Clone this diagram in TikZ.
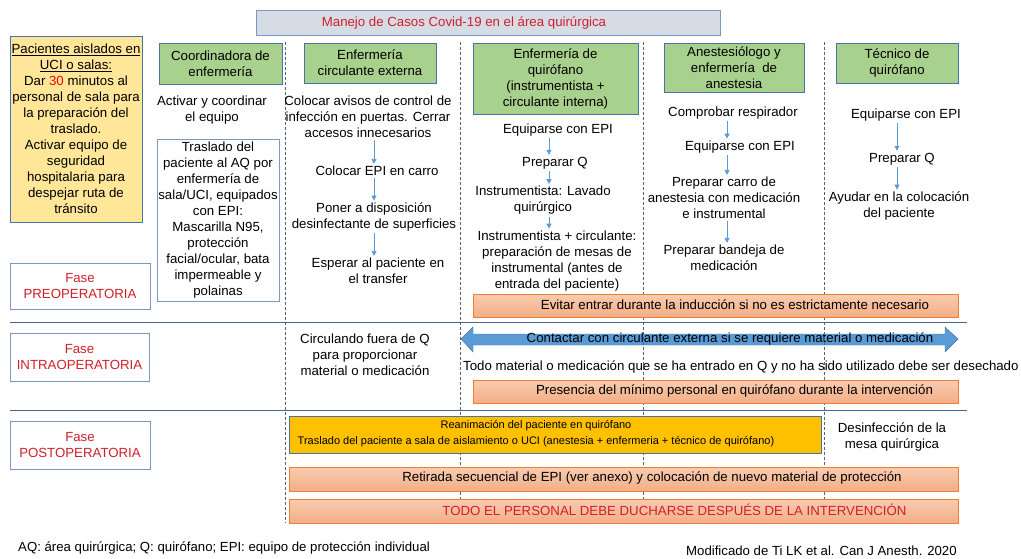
\documentclass[tikz,border=0pt]{standalone}
\usepackage{fontspec}
\setmainfont{Liberation Sans}
\usepackage{tikz}
\usetikzlibrary{positioning}
\usetikzlibrary{arrows.meta}
\definecolor{rolegreen}{HTML}{A9D18E}
\definecolor{boxblue}{HTML}{4A72A8}
\definecolor{softblue}{HTML}{7D98BE}
\definecolor{noteyellow}{HTML}{FFE699}
\definecolor{titlegray}{HTML}{D6DCE5}
\definecolor{phasered}{HTML}{D0202A}
\definecolor{barorange}{HTML}{F4AE86}
\definecolor{barlight}{HTML}{F8CCB0}
\definecolor{barline}{HTML}{ED7D31}
\definecolor{flowblue}{HTML}{5B9BD5}
\definecolor{arrowline}{HTML}{41719C}
\definecolor{reagold}{HTML}{FFC000}
\definecolor{sepline}{HTML}{4F6480}
\tikzset{x=1pt, y=-1pt, >={Triangle[length=5pt,width=5pt]}, font=\fontsize{13.25}{16}\selectfont}
\tikzstyle{role} = [draw=boxblue, fill=rolegreen, rectangle, align=center, inner sep=0pt]
\tikzstyle{note} = [draw=softblue, fill=white, rectangle, align=center, inner sep=0pt]
\tikzstyle{task} = [align=center, inner sep=2pt]
\tikzstyle{phase} = [draw=softblue, fill=white, rectangle, align=center, text=phasered, inner sep=0pt]
\tikzstyle{bar} = [draw=barline, top color=barlight, bottom color=barorange, rectangle, inner sep=0pt]
\tikzstyle{flow} = [->, draw=flowblue, line width=0.8pt]
\tikzstyle{lane} = [draw=sepline, line width=0.6pt, dash pattern=on 3pt off 2pt]
\tikzstyle{sep} = [draw=sepline, line width=0.8pt]
\begin{document}
\begin{tikzpicture}
		\useasboundingbox (0,0) rectangle (1021,558);

		% banner
		\node [rectangle, draw=softblue, fill=titlegray, minimum width=464, minimum height=25] (banner) at (488,22.5) {};
		\node [text=phasered] (title) at (464,23) {Manejo de Casos Covid-19 en el área quirúrgica};

		% contact arrow (under the lanes)
		\draw [draw=arrowline, fill=flowblue] (461,339) -- (473,327) -- (473,334) -- (945,334) -- (945,327) -- (958,339)
			-- (945,352) -- (945,345) -- (473,345) -- (473,352) -- cycle;
		\node (contact) at (730,339) {Contactar con circulante externa si se requiere material o medicación};

		% lanes and phase separators
		\foreach \lx in {285,460,643,824}
			\draw [lane] (\lx,42) -- (\lx,523);
		\draw [sep] (10,322) -- (967,322);
		\draw [sep] (10,410) -- (967,410);

		% left notes
		\node [rectangle, draw=boxblue, fill=noteyellow, align=center, minimum width=132, minimum height=186, inner sep=0pt] (isolated) at (76,129) {\underline{Pacientes aislados en}\\\underline{UCI o salas:}\\Dar {\color{red}30} minutos al\\personal de sala para\\la preparación del\\traslado.\\Activar equipo de\\seguridad\\hospitalaria para\\despejar ruta de\\tránsito};

		\node [phase, minimum width=140, minimum height=46] (pre) at (80,286) {Fase\\PREOPERATORIA};
		\node [phase, minimum width=139, minimum height=48] (intra) at (79.5,357) {Fase\\INTRAOPERATORIA};
		\node [phase, minimum width=140, minimum height=48] (post) at (80,445) {Fase\\POSTOPERATORIA};

		% roles
		\node [role, minimum width=123, minimum height=41] (coord) at (220.5,63.5) {Coordinadora de\\enfermería};
		\node [role, minimum width=132, minimum height=40] (circ) at (370,63) {Enfermería\\circulante externa};
		\node [role, minimum width=165, minimum height=71] (qnurse) at (555.5,78.5) {Enfermería de\\quirófano\\(instrumentista +\\circulante interna)};
		\node [role, minimum width=140, minimum height=49] (anest) at (734,67.5) {Anestesiólogo y\\enfermería\ \ de\\anestesia};
		\node [role, minimum width=122, minimum height=40] (tech) at (897,63) {Técnico de\\quirófano};

		% coordinadora
		\node [task] (c1a) at (212,110.5) {Activar y coordinar\\el equipo};
		\node [note, minimum width=122, minimum height=162] (c1b) at (218,220) {Traslado del\\paciente al AQ por\\enfermería de\\sala/UCI, equipados\\con EPI:\\Mascarilla N95,\\protección\\facial/ocular, bata\\impermeable y\\polainas};

		% circulante externa
		\node [task] (c2a) at (368,117) {Colocar avisos de control de\\infección en puertas. Cerrar\\accesos innecesarios};
		\node [task] (c2b) at (377,171) {Colocar EPI en carro};
		\node [task] (c2c) at (374,217) {Poner a disposición\\desinfectante de superficies};
		\node [task] (c2d) at (378,271) {Esperar al paciente en\\el transfer};
		\node [task] (c2e) at (365,354.5) {Circulando fuera de Q\\para proporcionar\\material o medicación};
		\coordinate (c2x) at (374,0);
		\draw [flow] (c2a.south -| c2x) -- (c2b.north -| c2x);
		\draw [flow] (c2b.south -| c2x) -- (c2c.north -| c2x);
		\draw [flow] (c2c.south -| c2x) -- (c2d.north -| c2x);

		% enfermeria de quirofano
		\node [task] (c3a) at (558,130) {Equiparse con EPI};
		\node [task] (c3b) at (555,163) {Preparar Q};
		\node [task] (c3c) at (543,200.5) {Instrumentista: Lavado\\quirúrgico};
		\node [task] (c3d) at (557,261) {Instrumentista + circulante:\\preparación de mesas de\\instrumental (antes de\\entrada del paciente)};
		\coordinate (c3x) at (549,0);
		\draw [flow] (c3a.south -| c3x) -- (c3b.north -| c3x);
		\draw [flow] (c3b.south -| c3x) -- (c3c.north -| c3x);
		\draw [flow] (c3c.south -| c3x) -- (c3d.north -| c3x);

		% anestesia
		\node [task] (c4a) at (733,113) {Comprobar respirador};
		\node [task] (c4b) at (740,147) {Equiparse con EPI};
		\node [task] (c4c) at (724,198) {Preparar carro de\\anestesia con medicación\\e instrumental};
		\node [task] (c4d) at (724,258) {Preparar bandeja de\\medicación};
		\coordinate (c4x) at (727,0);
		\draw [flow] (c4a.south -| c4x) -- (c4b.north -| c4x);
		\draw [flow] (c4b.south -| c4x) -- (c4c.north -| c4x);
		\draw [flow] (c4c.south -| c4x) -- (c4d.north -| c4x);

		% tecnico
		\node [task] (c5a) at (906,115) {Equiparse con EPI};
		\node [task] (c5b) at (902,159) {Preparar Q};
		\node [task] (c5c) at (899,206) {Ayudar en la colocación\\del paciente};
		\node [task] (c5d) at (892,437) {Desinfección de la\\mesa quirúrgica};
		\coordinate (c5x) at (897,0);
		\draw [flow] (c5a.south -| c5x) -- (c5b.north -| c5x);
		\draw [flow] (c5b.south -| c5x) -- (c5c.north -| c5x);

		% bars
		\node [bar, minimum width=485, minimum height=23] (avoid) at (715.5,305.5) {};
		\node (avoidtxt) at (735,305) {Evitar entrar durante la inducción si no es estrictamente necesario};
		\node [anchor=west, inner sep=0pt] (discard) at (463,367) {Todo material o medicación que se ha entrado en Q y no ha sido utilizado debe ser desechado};
		\node [bar, minimum width=485, minimum height=23] (staff) at (715.5,391.5) {};
		\node (stafftxt) at (734.5,391) {Presencia del mínimo personal en quirófano durante la intervención};
		\node [rectangle, draw=boxblue, fill=reagold, minimum width=532, minimum height=37] (revive) at (555,434.5) {};
		\node [align=center, font=\fontsize{11}{16.5}\selectfont] (revivetxt) at (536,433.5) {Reanimación del paciente en quirófano\\Traslado del paciente a sala de aislamiento o UCI (anestesia + enfermeria + técnico de quirófano)};
		\node [bar, minimum width=669, minimum height=24] (remove) at (623.5,479) {};
		\node (removetxt) at (652,478) {Retirada secuencial de EPI (ver anexo) y colocación de nuevo material de protección};
		\node [bar, minimum width=669, minimum height=24] (shower) at (623.5,511) {};
		\node [text=phasered] (showertxt) at (674.5,510) {TODO EL PERSONAL DEBE DUCHARSE DESPUÉS DE LA INTERVENCIÓN};

		% footer
		\node [anchor=west, inner sep=0pt, font=\fontsize{13.2}{14}\selectfont] (legend) at (18,548) {AQ: área quirúrgica; Q: quirófano; EPI: equipo de protección individual};
		\node [anchor=west, inner sep=0pt, font=\fontsize{13.2}{14}\selectfont] (source) at (686,550.5) {Modificado de Ti LK et al. Can J Anesth. 2020};

	\end{tikzpicture}
\end{document}
